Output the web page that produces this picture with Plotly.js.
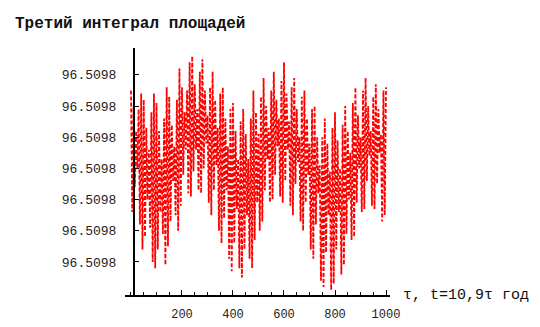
<!DOCTYPE html>
<html><head><meta charset="utf-8">
<script src="https://cdn.plot.ly/plotly-3.0.1.min.js"></script>
<style>html,body{margin:0;padding:0;background:#fff}#c{width:540px;height:327px}</style>
</head><body><div id="c"></div>
<script>
const titleText = "Третий интеграл площадей";
const xLabel = "τ, t=10,9τ год";
const tau = [
  0,5,10,15,20,25,30,35,40,45, 50,55,60,65,70,75,80,85,90,95,
  100,105,110,115,120,125,130,135,140,145, 150,155,160,165,170,175,180,185,190,195,
  200,205,210,215,220,225,230,235,240,245, 250,255,260,265,270,275,280,285,290,295,
  300,305,310,315,320,325,330,335,340,345, 350,355,360,365,370,375,380,385,390,395,
  400,405,410,415,420,425,430,435,440,445, 450,455,460,465,470,475,480,485,490,495,
  500,505,510,515,520,525,530,535,540,545, 550,555,560,565,570,575,580,585,590,595,
  600,605,610,615,620,625,630,635,640,645, 650,655,660,665,670,675,680,685,690,695,
  700,705,710,715,720,725,730,735,740,745, 750,755,760,765,770,775,780,785,790,795,
  800,805,810,815,820,825,830,835,840,845, 850,855,860,865,870,875,880,885,890,895,
  900,905,910,915,920,925,930,935,940,945, 950,955,960,965,970,975,980,985,990,995,
  1000];
// third area integral, deviation in units of tick spacing (all ticks read 96.5098)
const integral = [
  5.5,1.6,5.0,2.4,4.2,3.0,4.9,1.2,5.4,0.4, 5.2,0.8,4.3,2.0,3.6,1.1,4.8,0.0,5.4,-0.2,
  5.1,0.4,4.2,1.6,3.3,0.9,4.6,-0.1,5.6,0.5, 5.3,1.3,4.4,2.6,3.7,1.5,5.2,1.0,6.2,1.8,
  5.6,2.8,4.8,3.6,5.5,2.2,6.4,2.1,6.6,2.9, 5.7,3.6,4.9,2.3,6.1,2.2,6.5,3.0,5.5,3.8,
  4.7,1.9,5.6,1.5,6.1,2.3,5.2,3.1,4.3,1.0, 5.4,0.6,5.6,1.4,4.6,2.3,3.7,0.1,4.9,-0.3,
  5.1,0.6,4.2,1.7,3.3,-0.2,4.5,-0.5,4.9,0.4, 4.1,1.5,3.3,0.1,4.6,-0.2,5.5,0.7,4.8,1.9,
  4.1,1.0,5.3,1.3,5.9,2.3,5.0,3.3,4.3,1.9, 5.5,2.0,6.1,2.8,5.2,3.7,4.6,2.1,5.8,1.9,
  6.4,2.6,5.4,3.6,4.5,1.8,5.6,1.5,5.9,2.5, 4.9,3.2,4.0,1.3,5.3,1.0,5.5,1.9,4.6,2.8,
  3.8,0.4,4.9,0.1,5.0,1.2,4.0,2.2,3.1,-0.6, 4.0,-0.8,4.6,0.3,3.8,1.5,2.9,-0.9,4.3,-0.7,
  4.8,0.4,3.9,1.6,3.0,-0.4,4.4,-0.1,5.0,0.9, 4.2,2.0,3.5,0.7,5.1,0.8,5.6,1.9,4.7,3.0,
  4.0,1.6,5.5,1.7,5.9,2.6,5.0,3.4,4.2,1.8, 5.3,1.7,5.7,2.5,4.9,3.5,4.1,1.3,5.5,1.5,
  5.6];
const yTickVals = [0,1,2,3,4,5,6];
const yTickText = ["96.5098","96.5098","96.5098","96.5098","96.5098","96.5098","96.5098"];
const xTickVals = [200,400,600,800,1000];
const xTickText = ["200","400","600","800","1000"];

const mono = "Liberation Mono, DejaVu Sans Mono, monospace";
Plotly.newPlot("c", [{
  x: tau, y: integral, type: "scatter", mode: "lines",
  line: {color: "#ff0000", width: 1.8, dash: "4px,2px"},
  hoverinfo: "skip"
}], {
  width: 540, height: 327,
  margin: {l: 125, r: 150, t: 48, b: 32, pad: 0},
  paper_bgcolor: "#fff", plot_bgcolor: "#fff",
  showlegend: false,
  title: {text: titleText, x: 15/540, xanchor: "left", xref: "container",
          y: 1 - 22/327, yanchor: "middle", yref: "container",
          font: {family: mono, size: 16, color: "#111", weight: "bold"}},
  xaxis: {range: [-23.5, 1015.7], showgrid: false, zeroline: false,
          showline: true, linecolor: "#000", linewidth: 1.5,
          tickvals: xTickVals, ticktext: xTickText,
          ticks: "inside", ticklen: 5, tickwidth: 1, tickcolor: "#000",
          ticklabelstandoff: 7,
          minor: {dtick: 50, tick0: 0, ticks: "inside", ticklen: 3, tickcolor: "#000", showgrid: false},
          tickfont: {family: mono, size: 12, color: "#222"}},
  yaxis: {range: [-1.06, 6.86], showgrid: false, zeroline: false,
          anchor: "free", position: 8/265,
          showline: true, linecolor: "#000", linewidth: 1.5,
          tickvals: yTickVals, ticktext: yTickText,
          ticks: "inside", ticklen: 4, tickwidth: 1, tickcolor: "#000",
          ticklabelstandoff: 14,
          tickfont: {family: mono, size: 13, color: "#222"}},
  annotations: [{text: xLabel, xref: "paper", yref: "paper", x: 276/265, y: 0,
                 xanchor: "left", yanchor: "middle", showarrow: false,
                 font: {family: mono, size: 15, color: "#111"}}]
}, {staticPlot: true});
</script></body></html>
